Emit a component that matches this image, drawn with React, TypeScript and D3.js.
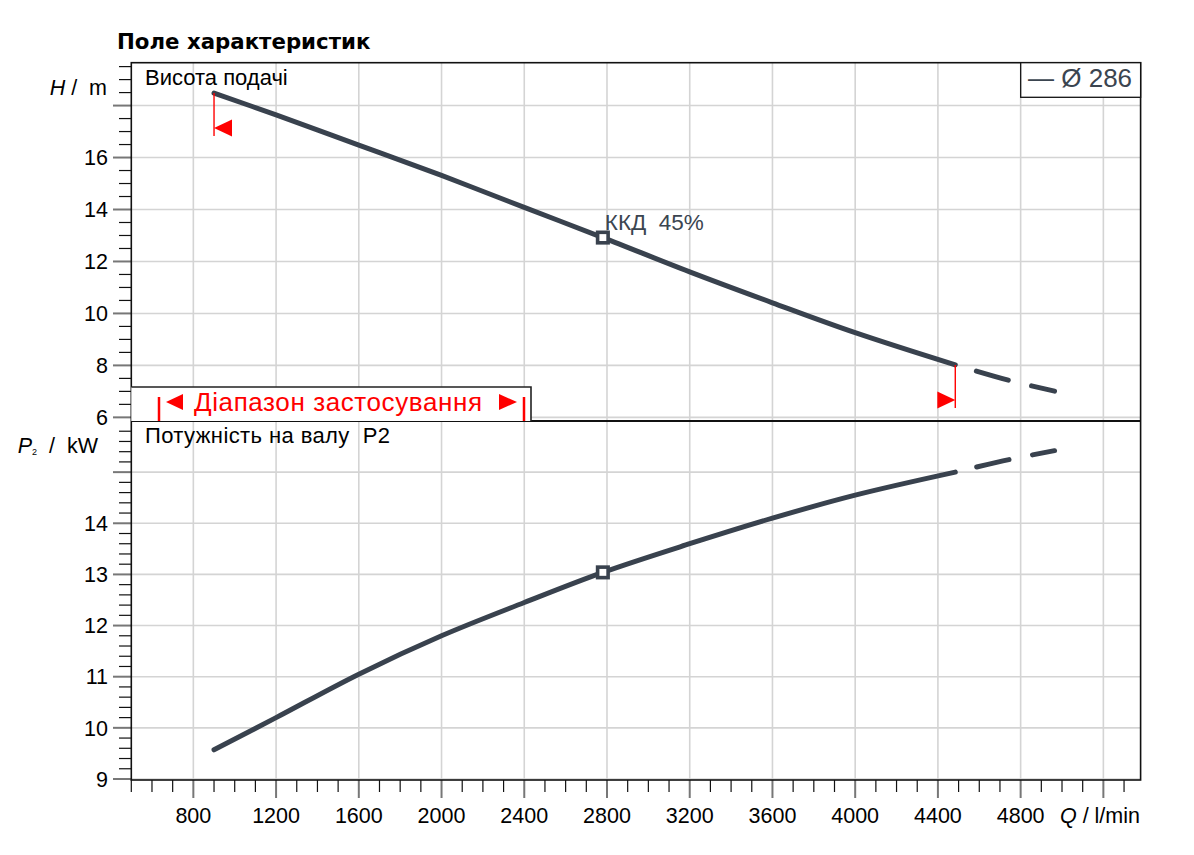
import React from 'react';
import * as d3 from 'd3';

// pump curve
const flowSolid = [900, 1200, 1600, 2000, 2400, 2780, 3200, 3600, 4000, 4484];
const headSolid = [18.48, 17.64, 16.48, 15.31, 14.08, 12.92, 11.6, 10.41, 9.26, 8.02];
const powerSolid = [9.57, 10.2, 11.05, 11.8, 12.45, 13.04, 13.6, 14.1, 14.55, 15.0];

const flowDashed = [4484, 4750, 4964];
const headDashed = [8.02, 7.41, 7.01];
const powerDashed = [15.0, 15.25, 15.42];

const dutyFlow = 2780;
const dutyHead = 12.92;
const dutyPower = 13.04;
const efficiencyLabel = 'ККД  45%';
const rangeFlow = [900, 4484];

const qLabels = [800, 1200, 1600, 2000, 2400, 2800, 3200, 3600, 4000, 4400, 4800];
const hLabels = [6, 8, 10, 12, 14, 16];
const pLabels = [9, 10, 11, 12, 13, 14];

const W = 1194;
const H = 855;
const left = 131.3;
const right = 1140.6;
const top = 62.7;
const mid = 421;
const bottom = 780;

const FONT = 'Liberation Sans, Arial, sans-serif';
const CURVE = '#39424e';
const GRID = '#d4d4d4';
const FS = 21.5;

const App: React.FC = () => {
  const x = d3.scaleLinear().domain([500, 5380]).range([left, right]);
  const yH = d3.scaleLinear().domain([5.86, 19.65]).range([mid, top]);
  const yP = d3.scaleLinear().domain([8.98, 16.0]).range([bottom, mid]);

  const curve = d3.curveCatmullRom.alpha(0.5);
  const lineH = d3.line<number>().x((_, i) => x(flowSolid[i])).y(d => yH(d)).curve(curve);
  const lineP = d3.line<number>().x((_, i) => x(flowSolid[i])).y(d => yP(d)).curve(curve);
  const lineHd = d3.line<number>().x((_, i) => x(flowDashed[i])).y(d => yH(d)).curve(curve);
  const linePd = d3.line<number>().x((_, i) => x(flowDashed[i])).y(d => yP(d)).curve(curve);

  const vGrid = d3.range(800, 5201, 400);
  const hGrid = d3.range(6, 19, 2);
  const pGrid = d3.range(9, 16, 1);
  const hMinor = d3.range(12, 40).map(i => i / 2);
  const pMinor = d3.range(45, 80).map(i => i / 5);
  const qMinor = d3.range(5, 54).map(i => i * 100);

  const rangeMarks = [
    { q: rangeFlow[0], h: headSolid[0], dir: -1 },
    { q: rangeFlow[1], h: headSolid[headSolid.length - 1], dir: 1 },
  ];

  const sq = 10.5;

  return (
    <svg width={W} height={H} style={{ position: 'absolute', left: 0, top: 0, background: '#fff' }} fontFamily={FONT}>
      <rect x={0} y={0} width={W} height={H} fill="#fff" />
      <text x={117} y={49} fontFamily="DejaVu Sans, Verdana, sans-serif" fontWeight="bold" fontSize={21.3}>Поле характеристик</text>

      {/* grid */}
      {vGrid.map(v => (
        <line key={'vg' + v} x1={x(v)} x2={x(v)} y1={top} y2={bottom} stroke={GRID} strokeWidth={1.6} />
      ))}
      {hGrid.map(v => (
        <line key={'hg' + v} x1={left} x2={right} y1={yH(v)} y2={yH(v)} stroke={GRID} strokeWidth={1.6} />
      ))}
      {pGrid.map(v => (
        <line key={'pg' + v} x1={left} x2={right} y1={yP(v)} y2={yP(v)} stroke={GRID} strokeWidth={1.6} />
      ))}

      {/* ticks */}
      {hMinor.map(v => {
        const major = v % 2 === 0;
        return <line key={'ht' + v} x1={major ? 113 : 119} x2={left} y1={yH(v)} y2={yH(v)}
          stroke={major ? '#777' : '#111'} strokeWidth={major ? 2 : 1.2} />;
      })}
      {pMinor.map(v => {
        const major = Math.abs(v - Math.round(v)) < 1e-6;
        return <line key={'pt' + v} x1={major ? 113 : 119} x2={left} y1={yP(v)} y2={yP(v)}
          stroke={major ? '#777' : '#111'} strokeWidth={major ? 2 : 1.2} />;
      })}
      {qMinor.map(v => {
        const major = v % 400 === 0;
        return <line key={'qt' + v} x1={x(v)} x2={x(v)} y1={bottom} y2={major ? 798 : 792}
          stroke={major ? '#777' : '#111'} strokeWidth={major ? 2 : 1.2} />;
      })}

      {/* tick labels */}
      {hLabels.map(v => (
        <text key={'hl' + v} x={108} y={yH(v)} dy="0.36em" textAnchor="end" fontSize={FS}>{v}</text>
      ))}
      {pLabels.map(v => (
        <text key={'pl' + v} x={108} y={yP(v)} dy="0.36em" textAnchor="end" fontSize={FS}>{v}</text>
      ))}
      {qLabels.map(v => (
        <text key={'ql' + v} x={x(v)} y={823} textAnchor="middle" fontSize={FS}>{v}</text>
      ))}

      {/* axis titles */}
      <text x={107} y={95} textAnchor="end" fontSize={FS} style={{ whiteSpace: 'pre' }}>
        <tspan fontStyle="italic">H</tspan>{' /  m'}
      </text>
      <text x={98} y={453} textAnchor="end" fontSize={FS} style={{ whiteSpace: 'pre' }}>
        <tspan fontStyle="italic">P</tspan>
        <tspan fontSize={9} dy={2}>2</tspan>
        <tspan dy={-2}>{'  /  kW'}</tspan>
      </text>
      <text x={1140} y={823} textAnchor="end" fontSize={FS} style={{ whiteSpace: 'pre' }}>
        <tspan fontStyle="italic">Q</tspan>{' / l/min'}
      </text>

      {/* panel labels */}
      <text x={145} y={85} fontSize={22}>Висота подачі</text>
      <text x={145} y={443} fontSize={22} letterSpacing={0.4} style={{ whiteSpace: 'pre' }}>Потужність на валу  P2</text>

      {/* frame */}
      <rect x={left} y={top} width={right - left} height={bottom - top} fill="none" stroke="#111" strokeWidth={1.6} />
      <line x1={left} x2={right} y1={mid} y2={mid} stroke="#111" strokeWidth={1.8} />

      {/* curves */}
      <path d={lineH(headSolid) || ''} fill="none" stroke={CURVE} strokeWidth={5} strokeLinecap="round" strokeLinejoin="round" />
      <path d={lineP(powerSolid) || ''} fill="none" stroke={CURVE} strokeWidth={5} strokeLinecap="round" strokeLinejoin="round" />
      <path d={lineHd(headDashed) || ''} fill="none" stroke={CURVE} strokeWidth={5} strokeLinecap="round"
        strokeDasharray="33 24" strokeDashoffset={35} />
      <path d={linePd(powerDashed) || ''} fill="none" stroke={CURVE} strokeWidth={5} strokeLinecap="round"
        strokeDasharray="33 24" strokeDashoffset={35} />

      {/* duty point */}
      <rect x={x(dutyFlow) - sq / 2} y={yH(dutyHead) - sq / 2} width={sq} height={sq} fill="#fff" stroke={CURVE} strokeWidth={3.6} />
      <rect x={x(dutyFlow) - sq / 2} y={yP(dutyPower) - sq / 2} width={sq} height={sq} fill="#fff" stroke={CURVE} strokeWidth={3.6} />
      <text x={x(dutyFlow) + 2} y={yH(dutyHead) - 8} fontSize={22.5} fill="#3b4550" style={{ whiteSpace: 'pre' }}>{efficiencyLabel}</text>

      {/* application range markers */}
      {rangeMarks.map(m => {
        const cx = x(m.q);
        const cy = yH(m.h);
        const bx = cx - m.dir * 18;
        return (
          <g key={'rm' + m.q}>
            <line x1={cx} x2={cx} y1={cy} y2={cy + 43} stroke="#f00" strokeWidth={1.4} />
            <path d={`M${cx},${cy + 35}L${bx},${cy + 26.5}L${bx},${cy + 43.5}Z`} fill="#f00" />
          </g>
        );
      })}

      {/* legend */}
      <rect x={1020.7} y={top} width={right - 1020.7} height={34.6} fill="#fff" stroke="#111" strokeWidth={1.3} />
      <text x={1028} y={87} fontSize={26} fill="#3b4550">— Ø 286</text>

      {/* range box */}
      <path d={`M${left},387H531V${mid}H${left}Z`} fill="#fff" stroke="none" />
      <path d={`M${left},387H531V${mid}`} fill="none" stroke="#222" strokeWidth={1.6} />
      <line x1={159} x2={159} y1={397} y2={mid} stroke="#f00" strokeWidth={2.5} />
      <line x1={524} x2={524} y1={397} y2={mid} stroke="#f00" strokeWidth={2.5} />
      <path d="M166,402L183,394L183,410Z" fill="#f00" />
      <path d="M517,402L499,394L499,410Z" fill="#f00" />
      <text x={194} y={411} fontSize={26} letterSpacing={0.6} fill="#f00">Діапазон застосування</text>
    </svg>
  );
};

export default App;
